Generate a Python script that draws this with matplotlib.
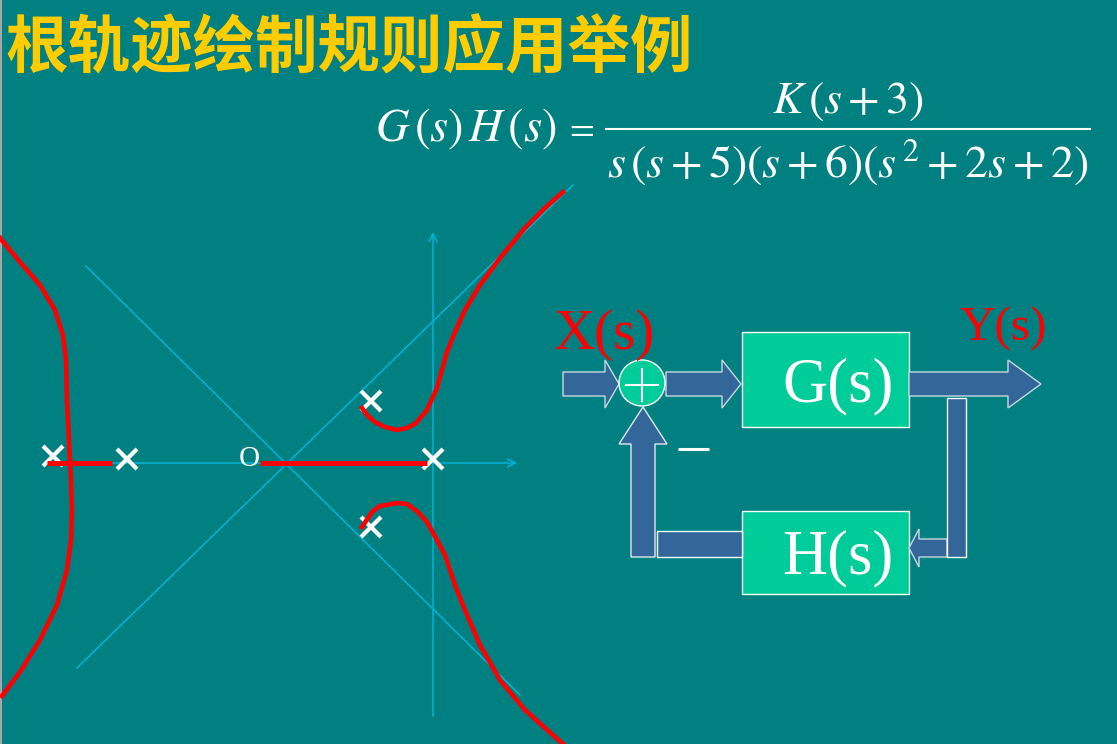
"""Root locus slide: sketch of the locus on the left, block diagram on the right."""
import matplotlib
matplotlib.use("Agg")
import matplotlib.pyplot as plt
from matplotlib.patches import Circle, Polygon, Rectangle

plt.rcParams["mathtext.fontset"] = "stix"

W, H = 1117, 744
TEAL = "#008080"
GOLD = "#FFCC00"
GREEN = "#00CC99"
BLUE = "#336699"
CYAN = "#00B4D8"
RED = "#FF0000"

title = "根轨迹绘制规则应用举例"
lhs = r"$G\,(s)\,H\,(s)$"
equals = r"$=$"
numerator = r"$K\,(s+3)$"
denominator = r"$s\,(s+5)(s+6)(s^{\,2}+2s+2)$"

# locus branches in pixels
left_x = [0, 20, 40, 55, 63, 66, 67, 69, 71, 72, 71, 67, 57, 40, 20, 2]
left_y = [238, 262, 285, 310, 335, 360, 400, 440, 480, 510, 540, 570, 605, 640, 672, 696]
upper_x = [362, 368, 375, 385, 397, 407, 416, 427, 437, 442, 447, 455, 465, 480, 500, 525, 545, 563]
upper_y = [408, 416, 422, 427, 430, 428, 423, 410, 388, 370, 352, 332, 310, 285, 258, 228, 208, 192]
lower_x = [362, 372, 380, 397, 407, 418, 427, 437, 445, 455, 465, 480, 500, 525, 563]
lower_y = [527, 512, 506, 503, 504, 512, 522, 540, 555, 585, 610, 645, 680, 710, 744]
real_segments = [(47, 112), (260, 427)]
real_y = 463

pole_x = [53, 127, 371, 371, 433]
pole_y = [456, 459, 401, 527, 459]
zero_x, zero_y = 249, 456

fig = plt.figure(figsize=(W / 100, H / 100), dpi=100, facecolor=TEAL)
ax = fig.add_axes([0, 0, 1, 1])
ax.set_xlim(0, W)
ax.set_ylim(H, 0)
ax.axis("off")

ax.add_patch(Rectangle((0, 0), 2, H, fc="#A6A6A6", ec="none"))

ax.text(5, 66, title, color=GOLD, fontsize=45, fontweight="bold",
        family=["Noto Sans CJK SC", "DejaVu Sans"], va="baseline")

# transfer function
ax.text(375, 141, lhs, color="white", fontsize=33.5, va="baseline")
ax.text(564, 138, equals, color="white", fontsize=26, va="baseline")
ax.plot([606, 1090], [129, 129], color="white", lw=1.5)
ax.text(848, 113, numerator, color="white", fontsize=33, va="baseline", ha="center")
ax.text(848, 177, denominator, color="white", fontsize=33, va="baseline", ha="center")

# asymptotes and axes, under the red locus
ax.plot([86, 520], [266, 695], color=CYAN, lw=1.1, zorder=1.5)
ax.plot([77, 573], [668, 185], color=CYAN, lw=1.1, zorder=1.5)
ax.annotate("", xy=(517, 463), xytext=(53, 463), zorder=1.5,
            arrowprops=dict(arrowstyle="->", color=CYAN, lw=1.1, mutation_scale=14,
                            shrinkA=0, shrinkB=0))
ax.annotate("", xy=(433, 232), xytext=(433, 716), zorder=1.5,
            arrowprops=dict(arrowstyle="->", color=CYAN, lw=1.1, mutation_scale=14,
                            shrinkA=0, shrinkB=0))

ax.plot(pole_x, pole_y, ls="none", marker="x", ms=15, mew=3, color="white")
ax.text(zero_x, zero_y, "O", color="white", fontsize=21, family="Liberation Serif",
        ha="center", va="center_baseline")

for xs, ys in [(left_x, left_y), (upper_x, upper_y), (lower_x, lower_y)]:
    ax.plot(xs, ys, color=RED, lw=3.3, solid_joinstyle="round")
for x0, x1 in real_segments:
    ax.plot([x0, x1], [real_y, real_y], color=RED, lw=3.6, solid_capstyle="butt")


# block diagram
def block(x0, y0, x1, y1, color):
    ax.add_patch(Rectangle((x0, y0), x1 - x0, y1 - y0, fc=color, ec="white", lw=1))


def harrow(tail, head_start, tip, y_mid, half_shaft, half_head):
    pts = [(tail, y_mid - half_shaft), (head_start, y_mid - half_shaft),
           (head_start, y_mid - half_head), (tip, y_mid),
           (head_start, y_mid + half_head), (head_start, y_mid + half_shaft),
           (tail, y_mid + half_shaft)]
    ax.add_patch(Polygon(pts, closed=True, fc=BLUE, ec="#C8D8E0", lw=1))


block(742, 332, 909, 427, GREEN)
block(742, 511, 909, 594, GREEN)
harrow(563, 605, 619, 384, 12, 24)
harrow(666, 722, 741, 384, 12, 24)
harrow(909, 1008, 1041, 384, 12, 24)
harrow(947, 919, 909, 548, 9, 19)
block(947, 398, 966, 557, BLUE)
block(657, 531, 742, 557, BLUE)
ax.add_patch(Polygon([(643, 407), (667, 444), (655, 444), (655, 557), (631, 557),
                      (631, 444), (619, 444)], closed=True, fc=BLUE, ec="#E0E8F0", lw=1))

ax.add_patch(Circle((642, 383), 23, fc=GREEN, ec="white", lw=1))
ax.plot([626, 658], [385, 385], color="white", lw=1.5)
ax.plot([642, 642], [369, 401], color="white", lw=1.5)
ax.plot([678, 709], [449, 449], color="white", lw=2.2, solid_capstyle="butt")

serif = "Liberation Serif"
ax.text(554, 349, "X(s)", color=RED, fontsize=41, family=serif, va="baseline")
ax.text(959, 341, "Y(s)", color=RED, fontsize=35.5, family=serif, va="baseline")
ax.text(782, 401, "G(s)", color="white", fontsize=45, family=serif, va="baseline")
ax.text(782, 573, "H(s)", color="white", fontsize=45, family=serif, va="baseline")

fig.savefig("out.png", dpi=100, facecolor=TEAL)
